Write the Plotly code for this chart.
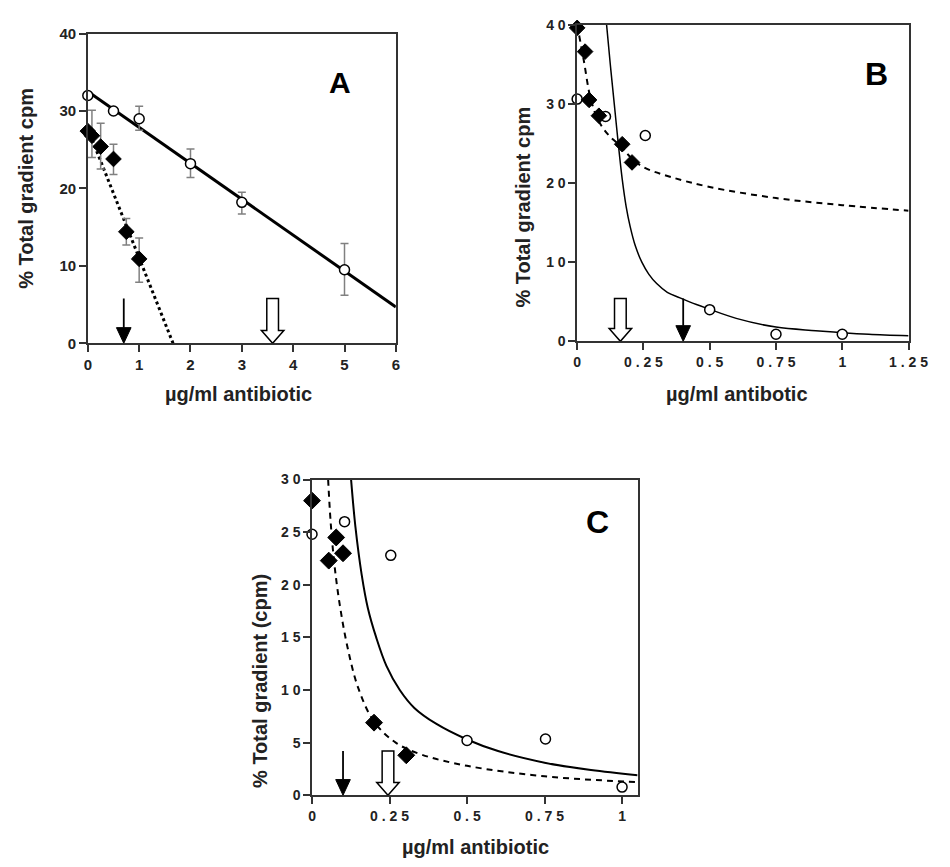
import plotly.graph_objects as go

W, H = 950, 867

# ---------------- Panel A data ----------------
a_circ_x = [0, 0.5, 1, 2, 3, 5]
a_circ_y = [32.0, 30.0, 29.0, 23.2, 18.2, 9.5]
a_circ_ep = [0, 0, 1.6, 1.9, 1.3, 3.4]
a_circ_em = [0, 0, 1.5, 1.8, 1.5, 3.3]
a_dia_x = [0, 0.08, 0.25, 0.5, 0.75, 1.0]
a_dia_y = [27.4, 26.8, 25.4, 23.8, 14.4, 10.9]
a_dia_ep = [0, 3.3, 3.0, 1.9, 1.7, 2.7]
a_dia_em = [0, 2.8, 2.9, 2.0, 1.7, 3.0]
a_solid_x = [0, 6]
a_solid_y = [32.5, 4.7]
a_dot_x = [0, 1.66]
a_dot_y = [27.7, 0]
a_arrow_filled = 0.7
a_arrow_open = 3.6
a_arrow_top = 5.8

# ---------------- Panel B data ----------------
b_dia_x = [0, 0.03, 0.045, 0.082, 0.17, 0.207]
b_dia_y = [39.6, 36.6, 30.5, 28.5, 24.9, 22.6]
b_circ_x = [0, 0.107, 0.257, 0.5, 0.75, 1.0]
b_circ_y = [30.6, 28.4, 26.0, 4.0, 0.9, 0.9]
b_solid_x = [0.111, 0.125, 0.14, 0.155, 0.17, 0.185, 0.2, 0.22, 0.244, 0.27, 0.3, 0.34, 0.388, 0.45, 0.5, 0.6, 0.75, 0.9, 1.0, 1.1, 1.25]
b_solid_y = [40, 35, 30, 25, 20.5, 17, 14.5, 12, 10, 8.5, 7.3, 6.2, 5.5, 4.65, 4.05, 2.9, 1.8, 1.35, 1.1, 0.9, 0.7]
b_dash_x = [0, 0.025, 0.05, 0.08, 0.12, 0.17, 0.2, 0.25, 0.35, 0.5, 0.75, 1.0, 1.25]
b_dash_y = [40, 35.5, 30.8, 27.9, 26.0, 24.5, 23.3, 22.0, 20.8, 19.5, 18.1, 17.2, 16.5]
b_arrow_filled = 0.4
b_arrow_open = 0.163
b_arrow_top = 5.4

# ---------------- Panel C data ----------------
c_dia_x = [0, 0.054, 0.078, 0.1, 0.2, 0.304]
c_dia_y = [28.0, 22.3, 24.5, 23.0, 6.9, 3.8]
c_circ_x = [0, 0.105, 0.254, 0.5, 0.753, 1.0]
c_circ_y = [24.8, 26.0, 22.8, 5.2, 5.35, 0.78]
c_solid_x = [0.126, 0.14, 0.16, 0.18, 0.207, 0.24, 0.283, 0.33, 0.4, 0.5, 0.6, 0.75, 0.9, 1.05]
c_solid_y = [30, 25.5, 21, 17.8, 15, 12.3, 10, 8.3, 6.8, 5.3, 4.2, 3.1, 2.4, 1.9]
c_dash_x = [0.052, 0.06, 0.072, 0.09, 0.115, 0.149, 0.2, 0.27, 0.35, 0.5, 0.75, 1.05]
c_dash_y = [30, 26, 22, 18, 14, 10.2, 7.0, 5.0, 3.9, 2.8, 1.8, 1.25]
c_arrow_filled = 0.1
c_arrow_open = 0.245
c_arrow_top = 4.2

# tick labels
a_xticks = [0, 1, 2, 3, 4, 5, 6]
a_yticks = [0, 10, 20, 30, 40]
b_xticks = [0, 0.25, 0.5, 0.75, 1, 1.25]
b_yticks = [0, 10, 20, 30, 40]
c_xticks = [0, 0.25, 0.5, 0.75, 1]
c_yticks = [0, 5, 10, 15, 20, 25, 30]

FONT = "Arial, Liberation Sans, sans-serif"
TXT = "#222222"


def spaced(v):
    s = ("%g" % v)
    return " ".join(list(s))


# pixel boxes (left, right, top, bottom)
boxA = (86, 402, 25, 341)
boxB = (588, 928, 16, 339)
boxC = (316, 650, 480, 802)


def dom(box):
    l, r, t, b = box
    return [l / W, r / W], [1 - b / H, 1 - t / H]


fig = go.Figure()

circ = dict(symbol="circle", color="white", size=10, line=dict(color="black", width=1.5))
dia = dict(symbol="diamond", color="black", size=12, line=dict(color="black", width=1))

# Panel A
fig.add_trace(go.Scatter(x=a_solid_x, y=a_solid_y, mode="lines", line=dict(color="black", width=3),
                         xaxis="x", yaxis="y", showlegend=False))
fig.add_trace(go.Scatter(x=a_dot_x, y=a_dot_y, mode="lines", line=dict(color="black", width=3, dash="dot"),
                         xaxis="x", yaxis="y", showlegend=False))
fig.add_trace(go.Scatter(x=a_circ_x, y=a_circ_y, mode="markers", marker=circ,
                         error_y=dict(type="data", array=a_circ_ep, arrayminus=a_circ_em, color="#808080",
                                      thickness=1.5, width=4),
                         xaxis="x", yaxis="y", showlegend=False, cliponaxis=False))
fig.add_trace(go.Scatter(x=a_dia_x, y=a_dia_y, mode="markers", marker=dia,
                         error_y=dict(type="data", array=a_dia_ep, arrayminus=a_dia_em, color="#808080",
                                      thickness=1.5, width=4),
                         xaxis="x", yaxis="y", showlegend=False, cliponaxis=False))

# Panel B
fig.add_trace(go.Scatter(x=b_solid_x, y=b_solid_y, mode="lines", line=dict(color="black", width=1.5, shape="spline"),
                         xaxis="x2", yaxis="y2", showlegend=False))
fig.add_trace(go.Scatter(x=b_dash_x, y=b_dash_y, mode="lines",
                         line=dict(color="black", width=2, dash="6px,5px", shape="spline"),
                         xaxis="x2", yaxis="y2", showlegend=False))
fig.add_trace(go.Scatter(x=b_circ_x, y=b_circ_y, mode="markers", marker=circ,
                         xaxis="x2", yaxis="y2", showlegend=False, cliponaxis=False))
fig.add_trace(go.Scatter(x=b_dia_x, y=b_dia_y, mode="markers", marker=dia,
                         xaxis="x2", yaxis="y2", showlegend=False, cliponaxis=False))

# Panel C
fig.add_trace(go.Scatter(x=c_solid_x, y=c_solid_y, mode="lines", line=dict(color="black", width=2, shape="spline"),
                         xaxis="x3", yaxis="y3", showlegend=False))
fig.add_trace(go.Scatter(x=c_dash_x, y=c_dash_y, mode="lines",
                         line=dict(color="black", width=2, dash="6px,5px", shape="spline"),
                         xaxis="x3", yaxis="y3", showlegend=False))
fig.add_trace(go.Scatter(x=c_circ_x, y=c_circ_y, mode="markers", marker=circ,
                         xaxis="x3", yaxis="y3", showlegend=False, cliponaxis=False))
fig.add_trace(go.Scatter(x=c_dia_x, y=c_dia_y, mode="markers", marker=dict(dia, size=13),
                         xaxis="x3", yaxis="y3", showlegend=False, cliponaxis=False))


def axis_common(box, rng, ticks, labels, is_x, fsize):
    xd, yd = dom(box)
    d = dict(range=rng, showline=True, linecolor="#333", linewidth=1.5, mirror=True,
             ticks="outside", ticklen=7, tickwidth=1.5, tickcolor="#333",
             tickvals=ticks, ticktext=labels, showgrid=False, zeroline=False,
             tickfont=dict(family=FONT, size=fsize, color=TXT, weight="bold"),
             fixedrange=True)
    d["domain"] = xd if is_x else yd
    return d


layout = dict(
    width=W, height=H, margin=dict(l=0, r=0, t=0, b=0),
    paper_bgcolor="white", plot_bgcolor="white", showlegend=False,
)
layout["xaxis"] = axis_common(boxA, [0, 6], a_xticks, [str(v) for v in a_xticks], True, 15)
layout["xaxis"]["anchor"] = "y"
layout["yaxis"] = axis_common(boxA, [0, 40], a_yticks, [str(v) for v in a_yticks], False, 15)
layout["yaxis"]["anchor"] = "x"
layout["xaxis2"] = axis_common(boxB, [0, 1.25], b_xticks, [spaced(v) for v in b_xticks], True, 14)
layout["xaxis2"]["anchor"] = "y2"
layout["yaxis2"] = axis_common(boxB, [0, 40], b_yticks, [spaced(v) for v in b_yticks], False, 14)
layout["yaxis2"]["anchor"] = "x2"
layout["xaxis3"] = axis_common(boxC, [0, 1.05], c_xticks, [spaced(v) for v in c_xticks], True, 14)
layout["xaxis3"]["anchor"] = "y3"
layout["yaxis3"] = axis_common(boxC, [0, 30], c_yticks, [spaced(v) for v in c_yticks], False, 14)
layout["yaxis3"]["anchor"] = "x3"
fig.update_layout(**layout)


# arrows built from data positions
def arrows(box, xr, yr, xref, yref, xf, xo, top):
    l, r, t, b = box
    pxx = (r - l) / (xr[1] - xr[0])
    pxy = (b - t) / (yr[1] - yr[0])
    shapes = []
    # filled arrow: thin shaft + solid head
    hw, hh = 7.5 / pxx, 16 / pxy
    shapes.append(dict(type="line", xref=xref, yref=yref, x0=xf, x1=xf, y0=top, y1=hh,
                       line=dict(color="black", width=1.8)))
    shapes.append(dict(type="path", xref=xref, yref=yref,
                       path=f"M{xf - hw},{hh} L{xf + hw},{hh} L{xf},0 Z",
                       fillcolor="black", line=dict(color="black", width=1)))
    # open block arrow
    sw, hw2, hh2 = 6 / pxx, 11.5 / pxx, 13 / pxy
    p = (f"M{xo - sw},{top} L{xo + sw},{top} L{xo + sw},{hh2} L{xo + hw2},{hh2} L{xo},0 "
         f"L{xo - hw2},{hh2} L{xo - sw},{hh2} Z")
    shapes.append(dict(type="path", xref=xref, yref=yref, path=p, fillcolor="white",
                       line=dict(color="black", width=1.5)))
    return shapes


shapes = []
shapes += arrows(boxA, [0, 6], [0, 40], "x", "y", a_arrow_filled, a_arrow_open, a_arrow_top)
shapes += arrows(boxB, [0, 1.25], [0, 40], "x2", "y2", b_arrow_filled, b_arrow_open, b_arrow_top)
shapes += arrows(boxC, [0, 1.05], [0, 30], "x3", "y3", c_arrow_filled, c_arrow_open, c_arrow_top)
fig.update_layout(shapes=shapes)


def ann(text, x, y, size, angle=0, color=TXT):
    return dict(text=text, x=x / W, y=1 - y / H, xref="paper", yref="paper", showarrow=False,
                xanchor="center", yanchor="middle", textangle=angle,
                font=dict(family=FONT, size=size, color=color, weight="bold"))


anns = [
    ann("A", 345, 75, 30, color="black"),
    ann("B", 895, 66, 32, color="black"),
    ann("C", 609, 523, 32, color="black"),
    ann("% Total gradient cpm", 23, 183, 20, -90),
    ann("µg/ml antibiotic", 241, 393, 20),
    ann("% Total gradient cpm", 532, 202, 20, -90),
    ann("µg/ml antibotic", 752, 393, 20),
    ann("% Total gradient (cpm)", 262, 685, 20, -90),
    ann("µg/ml antibiotic", 484, 855, 20),
]
fig.update_layout(annotations=anns)

fig.write_html("out.html")
